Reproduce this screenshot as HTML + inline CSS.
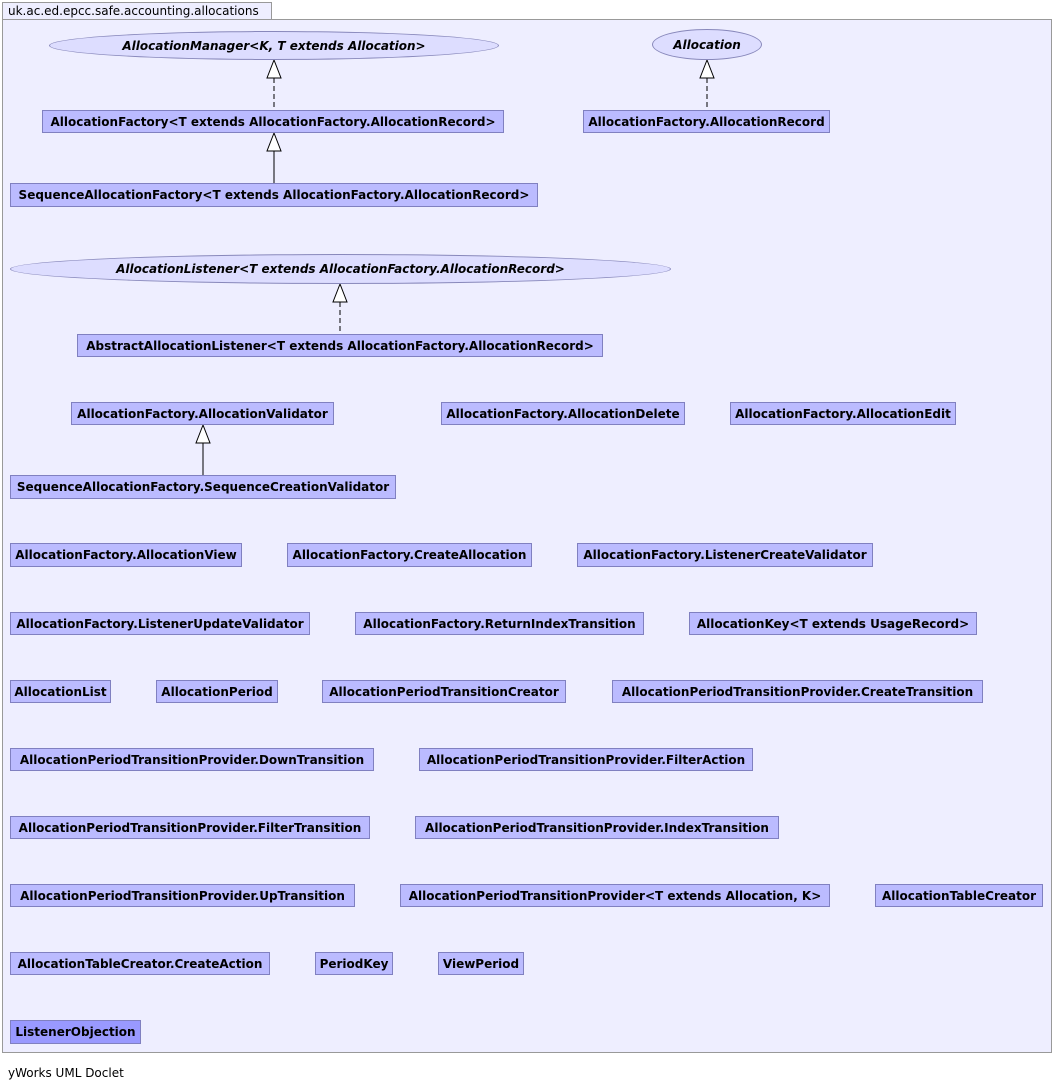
<!DOCTYPE html>
<html><head><meta charset="utf-8"><style>
body{margin:0;width:1054px;height:1090px;background:#fff;position:relative;overflow:hidden;font-family:"DejaVu Sans","Liberation Sans",sans-serif}
.b{position:absolute;box-sizing:border-box;background:#bbbbff;border:1px solid #8080c0;font-weight:bold;font-size:12px;color:#000;display:flex;align-items:center;justify-content:center;white-space:nowrap}
.e{position:absolute;box-sizing:border-box;background:#ddddff;border:1px solid #8888bb;border-radius:50%;font-weight:bold;font-style:italic;font-size:12px;display:flex;align-items:center;justify-content:center;white-space:nowrap}
</style></head><body>
<div style="position:absolute;left:2px;top:2px;width:270px;height:18px;box-sizing:border-box;border:1px solid #999;background:#eeeeff;font-size:12px;padding-left:5px;line-height:16px">uk.ac.ed.epcc.safe.accounting.allocations</div>
<div style="position:absolute;left:2px;top:19px;width:1050px;height:1034px;box-sizing:border-box;border:1px solid #999;background:#eeeeff"></div>
<div style="position:absolute;left:8px;top:1066px;font-size:12px">yWorks UML Doclet</div>
<svg style="position:absolute;left:0;top:0" width="1054" height="1090">
<g stroke="#000" fill="#fff" stroke-width="1">
<line x1="274" y1="78" x2="274" y2="110" stroke-dasharray="5,3"/><polygon points="274,60 267,78 281,78"/>
<line x1="274" y1="151" x2="274" y2="183"/><polygon points="274,133 267,151 281,151"/>
<line x1="707" y1="78" x2="707" y2="110" stroke-dasharray="5,3"/><polygon points="707,60 700,78 714,78"/>
<line x1="340" y1="302" x2="340" y2="334" stroke-dasharray="5,3"/><polygon points="340,284 333,302 347,302"/>
<line x1="203" y1="443" x2="203" y2="475"/><polygon points="203,425 196,443 210,443"/>
</g></svg>
<div class="e" style="left:49px;top:31px;width:450px;height:29px">AllocationManager&lt;K, T extends Allocation&gt;</div>
<div class="e" style="left:652px;top:29px;width:110px;height:31px">Allocation</div>
<div class="e" style="left:10px;top:254px;width:661px;height:30px">AllocationListener&lt;T extends AllocationFactory.AllocationRecord&gt;</div>
<div class="b" style="left:42px;top:110px;width:462px;height:23px">AllocationFactory&lt;T extends AllocationFactory.AllocationRecord&gt;</div>
<div class="b" style="left:10px;top:183px;width:528px;height:24px">SequenceAllocationFactory&lt;T extends AllocationFactory.AllocationRecord&gt;</div>
<div class="b" style="left:583px;top:110px;width:247px;height:23px">AllocationFactory.AllocationRecord</div>
<div class="b" style="left:77px;top:334px;width:526px;height:23px">AbstractAllocationListener&lt;T extends AllocationFactory.AllocationRecord&gt;</div>
<div class="b" style="left:71px;top:402px;width:263px;height:23px">AllocationFactory.AllocationValidator</div>
<div class="b" style="left:441px;top:402px;width:244px;height:23px">AllocationFactory.AllocationDelete</div>
<div class="b" style="left:730px;top:402px;width:226px;height:23px">AllocationFactory.AllocationEdit</div>
<div class="b" style="left:10px;top:475px;width:386px;height:24px">SequenceAllocationFactory.SequenceCreationValidator</div>
<div class="b" style="left:10px;top:543px;width:232px;height:24px">AllocationFactory.AllocationView</div>
<div class="b" style="left:287px;top:543px;width:245px;height:24px">AllocationFactory.CreateAllocation</div>
<div class="b" style="left:577px;top:543px;width:296px;height:24px">AllocationFactory.ListenerCreateValidator</div>
<div class="b" style="left:10px;top:612px;width:300px;height:23px">AllocationFactory.ListenerUpdateValidator</div>
<div class="b" style="left:355px;top:612px;width:289px;height:23px">AllocationFactory.ReturnIndexTransition</div>
<div class="b" style="left:689px;top:612px;width:288px;height:23px">AllocationKey&lt;T extends UsageRecord&gt;</div>
<div class="b" style="left:10px;top:680px;width:101px;height:23px">AllocationList</div>
<div class="b" style="left:156px;top:680px;width:122px;height:23px">AllocationPeriod</div>
<div class="b" style="left:322px;top:680px;width:244px;height:23px">AllocationPeriodTransitionCreator</div>
<div class="b" style="left:612px;top:680px;width:371px;height:23px">AllocationPeriodTransitionProvider.CreateTransition</div>
<div class="b" style="left:10px;top:748px;width:364px;height:23px">AllocationPeriodTransitionProvider.DownTransition</div>
<div class="b" style="left:419px;top:748px;width:334px;height:23px">AllocationPeriodTransitionProvider.FilterAction</div>
<div class="b" style="left:10px;top:816px;width:360px;height:23px">AllocationPeriodTransitionProvider.FilterTransition</div>
<div class="b" style="left:415px;top:816px;width:364px;height:23px">AllocationPeriodTransitionProvider.IndexTransition</div>
<div class="b" style="left:10px;top:884px;width:345px;height:23px">AllocationPeriodTransitionProvider.UpTransition</div>
<div class="b" style="left:400px;top:884px;width:430px;height:23px">AllocationPeriodTransitionProvider&lt;T extends Allocation, K&gt;</div>
<div class="b" style="left:875px;top:884px;width:168px;height:23px">AllocationTableCreator</div>
<div class="b" style="left:10px;top:952px;width:260px;height:23px">AllocationTableCreator.CreateAction</div>
<div class="b" style="left:315px;top:952px;width:78px;height:23px">PeriodKey</div>
<div class="b" style="left:438px;top:952px;width:86px;height:23px">ViewPeriod</div>
<div class="b" style="left:10px;top:1020px;width:131px;height:24px;background:#9999ff">ListenerObjection</div>
</body></html>
